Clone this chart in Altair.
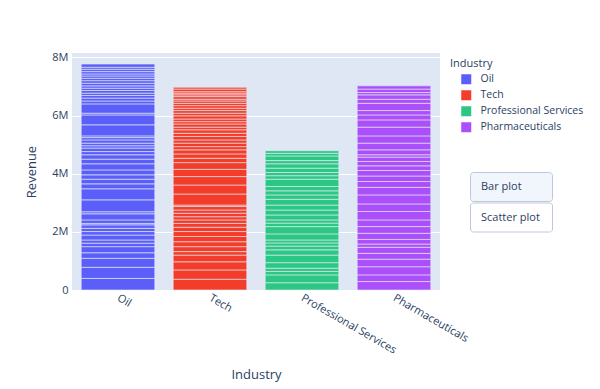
import altair as alt
import pandas as pd

industries = ["Oil", "Tech", "Professional Services", "Pharmaceuticals"]
colors = ["#5B5EF9", "#F43C2B", "#2CC784", "#AA4FF9"]

# segment revenues (millions), listed bottom to top
oil = [0.40, 0.38, 0.31, 0.19, 0.21, 0.12, 0.11, 0.17, 0.12, 0.11, 0.12, 0.05, 0.12, 0.21,
       0.07, 0.41, 0.38, 0.17, 0.16, 0.15, 0.17, 0.21, 0.16, 0.15, 0.11, 0.12, 0.08, 0.09,
       0.11, 0.08, 0.06, 0.38, 0.34, 0.06, 0.32, 0.10, 0.10, 0.09, 0.08, 0.09, 0.08, 0.08,
       0.09, 0.09, 0.08, 0.08, 0.07, 0.08, 0.08, 0.07, 0.11]
tech = [0.37, 0.32, 0.28, 0.23, 0.12, 0.17, 0.17, 0.18, 0.17, 0.15, 0.13, 0.12, 0.11, 0.12,
        0.11, 0.12, 0.05, 0.38, 0.31, 0.29, 0.25, 0.23, 0.15, 0.15, 0.14, 0.11, 0.12, 0.11,
        0.12, 0.11, 0.12, 0.09, 0.11, 0.08, 0.09, 0.11, 0.09, 0.09, 0.08, 0.09, 0.08, 0.08,
        0.06, 0.09, 0.06, 0.06, 0.05, 0.09, 0.06]
prof = [0.25, 0.27, 0.12, 0.11, 0.19, 0.26, 0.18, 0.13, 0.11, 0.10, 0.21, 0.25, 0.12, 0.11,
        0.17, 0.17, 0.17, 0.20, 0.15, 0.14, 0.15, 0.25, 0.12, 0.11, 0.15, 0.15, 0.11, 0.16,
        0.09, 0.09]
pharma = [0.29, 0.23, 0.28, 0.26, 0.20, 0.21, 0.11, 0.16, 0.21, 0.23, 0.23, 0.29, 0.26, 0.31,
          0.26, 0.20, 0.19, 0.19, 0.16, 0.15, 0.15, 0.08, 0.17, 0.23, 0.25, 0.30, 0.25, 0.17,
          0.15, 0.25, 0.14, 0.15, 0.08, 0.12, 0.11]

y_ticks = [0, 2e6, 4e6, 6e6, 8e6]
buttons = ["Bar plot", "Scatter plot"]
button_fill = ["#F0F6FC", "#FFFFFF"]

rows = []
for ind, segs in zip(industries, [oil, tech, prof, pharma]):
    for i, v in enumerate(segs):
        rows.append({"Industry": ind, "Revenue": v * 1e6, "idx": i})
df = pd.DataFrame(rows)

FONT = "Open Sans"
TXT = "#2a3f5f"
BG = "#DFE7F4"

bars = alt.Chart(df).mark_bar(stroke="#E8EEF7", strokeWidth=0.6).encode(
    x=alt.X("Industry:N", sort=industries,
            scale=alt.Scale(paddingInner=0.2, paddingOuter=0.1),
            axis=alt.Axis(title="Industry", labelAngle=30, labelAlign="left",
                          labelBaseline="middle", labelPadding=7, ticks=False,
                          domain=False, grid=False, labelFontSize=11,
                          labelColor=TXT, titleColor=TXT, titleFontSize=13,
                          titleFontWeight="normal", titleY=88,
                          titleBaseline="alphabetic", labelFont=FONT, titleFont=FONT)),
    y=alt.Y("Revenue:Q", stack="zero",
            scale=alt.Scale(domain=[0, 8.15e6], nice=False),
            axis=alt.Axis(title="Revenue", values=y_ticks,
                          labelExpr="datum.value == 0 ? '0' : (datum.value/1e6) + 'M'",
                          ticks=False, domain=False, gridColor="white", gridWidth=1,
                          labelPadding=4, labelFontSize=11, labelColor=TXT,
                          titleColor=TXT, titleFontSize=13, titleFontWeight="normal",
                          titleX=-37, titleBaseline="alphabetic",
                          labelFont=FONT, titleFont=FONT)),
    color=alt.Color("Industry:N", sort=industries,
                    scale=alt.Scale(domain=industries, range=colors),
                    legend=alt.Legend(orient="none", legendX=378, legendY=5,
                                      title="Industry", titleFontSize=11,
                                      titleFontWeight="normal", titleColor=TXT,
                                      labelColor=TXT, labelFontSize=10.5,
                                      symbolType="square", symbolSize=100,
                                      symbolStrokeWidth=0, symbolOffset=11,
                                      rowPadding=5, titlePadding=5, labelOffset=9,
                                      labelFont=FONT, titleFont=FONT)),
    order=alt.Order("idx:Q", sort="ascending"),
)

btn_layers = []
ys = [(119.5, 148.5), (150, 179)]
for (y0, y1), lab, fill in zip(ys, buttons, button_fill):
    one = pd.DataFrame({"label": [lab]})
    r = alt.Chart(one).mark_rect(cornerRadius=3, stroke="#BEC8D9", strokeWidth=1,
                                 fill=fill).encode(
        x=alt.value(398.5), x2=alt.value(480.5), y=alt.value(y0), y2=alt.value(y1))
    t = alt.Chart(one).mark_text(align="left", baseline="middle", font=FONT,
                                 fontSize=11, color=TXT).encode(
        x=alt.value(409), y=alt.value((y0 + y1) / 2), text="label:N")
    btn_layers += [r, t]

chart = alt.layer(bars, *btn_layers).properties(
    width=368, height=237,
    background="white",
    autosize=alt.AutoSizeParams(type="none"),
    padding={"left": 64, "top": 45, "right": 152, "bottom": 99},
).configure_view(fill=BG, stroke=None)

chart.save("out.html", embed_options={"renderer": "svg", "actions": False})
